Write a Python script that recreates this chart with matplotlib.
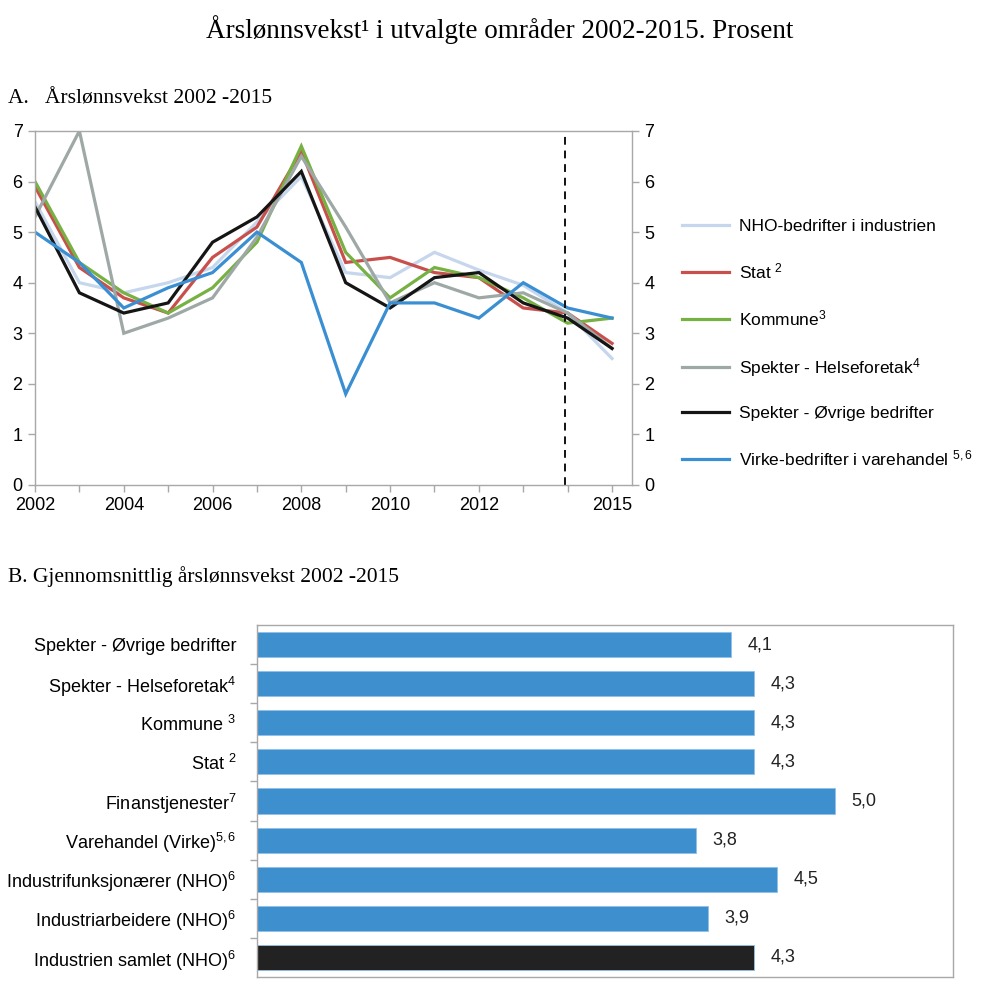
import matplotlib

matplotlib.use("Agg")
import matplotlib.pyplot as plt
import numpy as np

plt.rcParams["font.family"] = ["Liberation Sans", "DejaVu Sans"]
plt.rcParams["mathtext.fontset"] = "custom"
plt.rcParams["mathtext.rm"] = "Liberation Sans"
plt.rcParams["mathtext.it"] = "Liberation Sans"
plt.rcParams["mathtext.default"] = "rm"

# Panel A: annual wage growth per area
years = list(range(2002, 2016))
nho = [5.6, 4.0, 3.8, 4.0, 4.3, 5.2, 6.1, 4.2, 4.1, 4.6, 4.25, 3.95, 3.4, 2.5]
stat = [5.9, 4.3, 3.7, 3.4, 4.5, 5.1, 6.6, 4.4, 4.5, 4.2, 4.1, 3.5, 3.4, 2.8]
kommune = [6.0, 4.4, 3.8, 3.4, 3.9, 4.8, 6.7, 4.6, 3.7, 4.3, 4.1, 3.7, 3.2, 3.3]
helse = [5.3, 7.0, 3.0, 3.3, 3.7, 4.9, 6.5, 5.1, 3.6, 4.0, 3.7, 3.8, 3.4, 2.7]
ovrige = [5.5, 3.8, 3.4, 3.6, 4.8, 5.3, 6.2, 4.0, 3.5, 4.1, 4.2, 3.6, 3.3, 2.7]
virke = [5.0, 4.4, 3.5, 3.9, 4.2, 5.0, 4.4, 1.8, 3.6, 3.6, 3.3, 4.0, 3.5, 3.3]

series = [
    ("NHO-bedrifter i industrien", nho, "#c6d6ec"),
    ("Stat $^{2}$", stat, "#c8504c"),
    ("Kommune$^{3}$", kommune, "#77b043"),
    ("Spekter - Helseforetak$^{4}$", helse, "#9ea8a6"),
    ("Spekter - Øvrige bedrifter", ovrige, "#151515"),
    ("Virke-bedrifter i varehandel $^{5,6}$", virke, "#3a8fd3"),
]
year_ticks = [2002, 2004, 2006, 2008, 2010, 2012, 2015]

# Panel B: average wage growth 2002-2015
bar_labels = [
    "Spekter - Øvrige bedrifter",
    "Spekter - Helseforetak$^{4}$",
    "Kommune $^{3}$",
    "Stat $^{2}$",
    "Finanstjenester$^{7}$",
    "Varehandel (Virke)$^{5,6}$",
    "Industrifunksjonærer (NHO)$^{6}$",
    "Industriarbeidere (NHO)$^{6}$",
    "Industrien samlet (NHO)$^{6}$",
]
bar_values = [4.1, 4.3, 4.3, 4.3, 5.0, 3.8, 4.5, 3.9, 4.3]
bar_colors = ["#3d8fce"] * 8 + ["#222222"]

spine_col = "#a8a8a8"

fig = plt.figure(figsize=(10, 9.93), dpi=100, facecolor="white")

fig.text(0.5, 0.970, "Årslønnsvekst¹ i utvalgte områder 2002-2015. Prosent",
         ha="center", va="center", fontsize=19.5, family="Liberation Serif")
fig.text(0.008, 0.900, "A.   Årslønnsvekst 2002 -2015",
         ha="left", va="center", fontsize=15.5, family="Liberation Serif")
fig.text(0.008, 0.419, "B. Gjennomsnittlig årslønnsvekst 2002 -2015",
         ha="left", va="center", fontsize=15.5, family="Liberation Serif")

# --- line chart
ax = fig.add_axes([0.035, 0.5116, 0.597, 0.3565])
for label, vals, col in series:
    ax.plot(years, vals, color=col, lw=2.3, label=label, solid_joinstyle="miter")
ax.axvline(2013.95, color="#111111", lw=1.4, ls=(0, (4, 3)))
ax.set_xlim(2002, 2015.45)
ax.set_ylim(0, 7)
ax.set_xticks(year_ticks)
ax.set_xticks(years, minor=True)
ax.set_xticklabels([str(y) for y in year_ticks])
ax.set_yticks(range(0, 8))
ax.tick_params(axis="both", labelsize=13, color=spine_col, length=5, width=1)
ax.tick_params(axis="x", which="minor", color=spine_col, length=5, width=1)
ax.tick_params(axis="y", right=True, labelright=True, pad=4)
for s in ax.spines.values():
    s.set_color(spine_col)
    s.set_linewidth(1.0)

handles, labels = ax.get_legend_handles_labels()
fig.legend(handles, labels, loc="upper left", bbox_to_anchor=(0.682, 0.780),
           frameon=False, fontsize=12.5, handlelength=2.7, handletextpad=0.6,
           labelspacing=1.58, borderpad=0, borderaxespad=0)

# --- bar chart
bx = fig.add_axes([0.257, 0.0161, 0.696, 0.3545])
ypos = np.arange(len(bar_values))
bx.barh(ypos, bar_values, height=0.64, color=bar_colors, edgecolor="#8fc1ea",
        linewidth=0.6)
for y, v in zip(ypos, bar_values):
    bx.text(v + 0.14, y, f"{v:.1f}".replace(".", ","), ha="left", va="center",
            fontsize=13, color="#222222")
bx.set_ylim(len(bar_values) - 0.5, -0.5)
bx.set_xlim(0, 6.02)
bx.set_xticks([])
bx.set_yticks(ypos)
bx.set_yticklabels(bar_labels)
bx.set_yticks(np.arange(0.5, len(bar_values) - 1, 1.0), minor=True)
bx.tick_params(axis="y", which="major", length=0, pad=15, labelsize=13)
bx.tick_params(axis="y", which="minor", length=5, color=spine_col, width=1)
for s in bx.spines.values():
    s.set_color(spine_col)
    s.set_linewidth(1.0)

fig.savefig("out.png", dpi=100, facecolor="white")
